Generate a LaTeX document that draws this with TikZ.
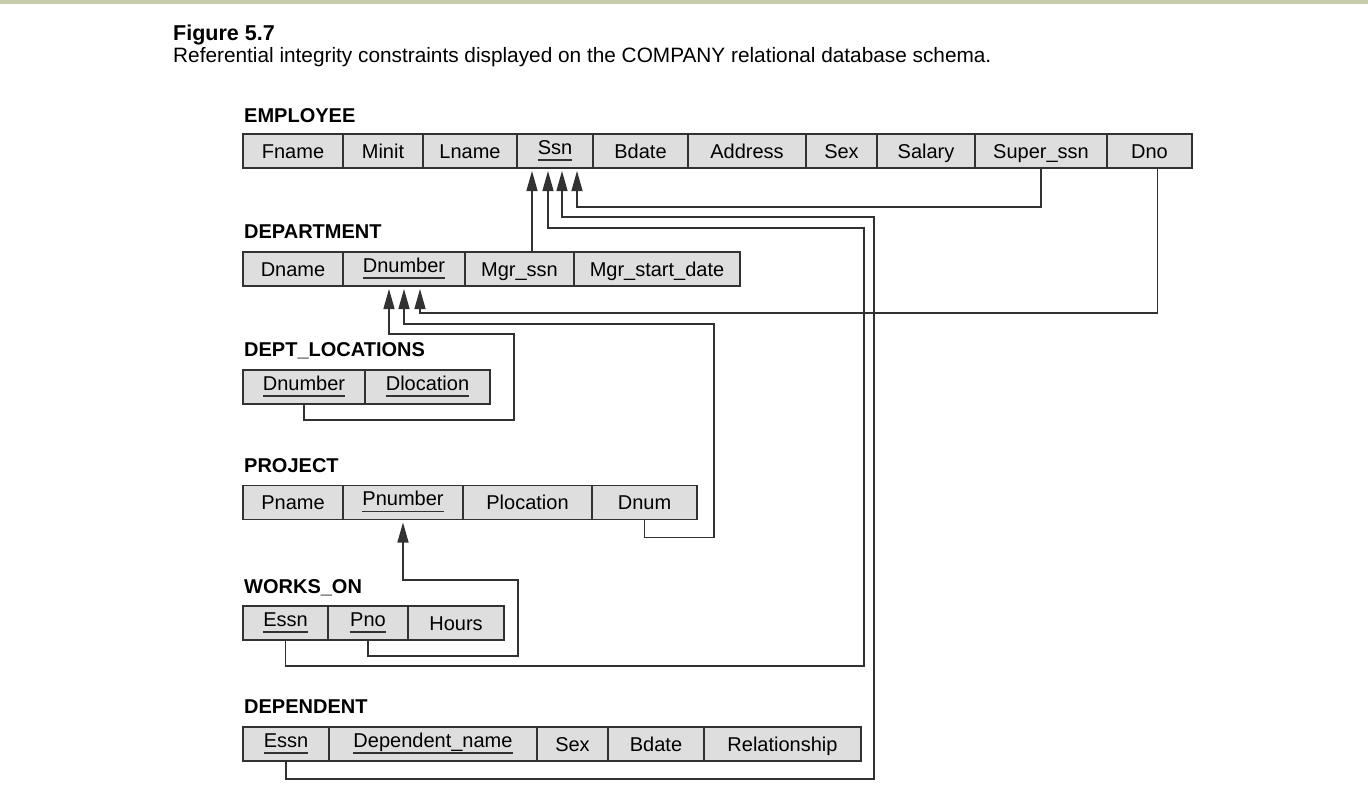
\documentclass[tikz,border=0pt]{standalone}
\usepackage{fontspec}
\setmainfont{Liberation Sans}
\usetikzlibrary{arrows.meta,calc,positioning}

\definecolor{cellgray}{RGB}{222,222,222}
\definecolor{linegray}{RGB}{50,50,50}
\definecolor{bandcol}{RGB}{200,203,172}

% key attribute: raised and underlined
\newcommand{\keyattr}[1]{\raisebox{4pt}{\setbox0\hbox{#1}\rlap{\color{linegray}\rule[-6.5pt]{\wd0}{1.1pt}}\box0}}

\tikzset{
  cell/.style={draw=linegray, fill=cellgray, line width=1.4pt, minimum height=34pt,
    inner sep=0pt, outer sep=0pt, text height=16pt, text depth=2pt,
    font=\fontsize{20}{24}\selectfont},
  first/.style={cell, anchor=west},
  relname/.style={anchor=base west, inner sep=0pt, font=\fontsize{20}{24}\selectfont\bfseries},
  fk/.style={draw=linegray, line width=1.4pt, -{Triangle[length=20pt,width=11pt]}},
}

\begin{document}
\begin{tikzpicture}[x=1pt, y=-1pt]
  \useasboundingbox (0,0) rectangle (1368,809);
  \fill[bandcol] (0,0) rectangle (1368,3.5);

  % caption
  \node[anchor=base west, inner sep=0pt, font=\fontsize{21.5}{26}\selectfont\bfseries] (fig) at (173,40) {Figure 5.7};
  \node[anchor=base west, inner sep=0pt, font=\fontsize{20.8}{24}\selectfont] (cap) at (173,62)
    {Referential integrity constraints displayed on the COMPANY relational database schema.};

  % EMPLOYEE
  \node[relname] (emplbl) at (244,122) {EMPLOYEE};
  \node[first, minimum width=100pt] (efname) at (243,151) {Fname};
  \node[cell, minimum width=80pt, right=0pt of efname] (eminit) {Minit};
  \node[cell, minimum width=94pt, right=0pt of eminit] (elname) {Lname};
  \node[cell, minimum width=76pt, right=0pt of elname] (essn) {\keyattr{Ssn}};
  \node[cell, minimum width=95pt, right=0pt of essn] (ebdate) {Bdate};
  \node[cell, minimum width=118pt, right=0pt of ebdate] (eaddress) {Address};
  \node[cell, minimum width=71pt, right=0pt of eaddress] (esex) {Sex};
  \node[cell, minimum width=98pt, right=0pt of esex] (esalary) {Salary};
  \node[cell, minimum width=132pt, right=0pt of esalary] (esuper) {Super\_ssn};
  \node[cell, minimum width=85pt, right=0pt of esuper] (edno) {Dno};

  % DEPARTMENT
  \node[relname] (deplbl) at (244,238) {DEPARTMENT};
  \node[first, minimum width=100pt] (ddname) at (243,269) {Dname};
  \node[cell, minimum width=122pt, right=0pt of ddname] (ddnumber) {\keyattr{Dnumber}};
  \node[cell, minimum width=109pt, right=0pt of ddnumber] (dmgr) {Mgr\_ssn};
  \node[cell, minimum width=166pt, right=0pt of dmgr] (dmgrdate) {Mgr\_start\_date};

  % DEPT_LOCATIONS
  \node[relname] (loclbl) at (244,356) {DEPT\_LOCATIONS};
  \node[first, minimum width=122pt] (ldnumber) at (243,387) {\keyattr{Dnumber}};
  \node[cell, minimum width=125pt, right=0pt of ldnumber] (ldlocation) {\keyattr{Dlocation}};

  % PROJECT
  \node[relname] (prjlbl) at (244,472) {PROJECT};
  \node[first, minimum width=100pt] (ppname) at (243,502.5) {Pname};
  \node[cell, minimum width=120pt, right=0pt of ppname] (ppnumber) {\keyattr{Pnumber}};
  \node[cell, minimum width=129pt, right=0pt of ppnumber] (pplocation) {Plocation};
  \node[cell, minimum width=105pt, right=0pt of pplocation] (pdnum) {Dnum};

  % WORKS_ON
  \node[relname] (wrklbl) at (244,593) {WORKS\_ON};
  \node[first, minimum width=85pt] (wessn) at (243,623) {\keyattr{Essn}};
  \node[cell, minimum width=80pt, right=0pt of wessn] (wpno) {\keyattr{Pno}};
  \node[cell, minimum width=96pt, right=0pt of wpno] (whours) {Hours};

  % DEPENDENT
  \node[relname] (dpdlbl) at (244,713) {DEPENDENT};
  \node[first, minimum width=86pt] (tessn) at (243,744) {\keyattr{Essn}};
  \node[cell, minimum width=208pt, right=0pt of tessn] (tdname) {\keyattr{Dependent\_name}};
  \node[cell, minimum width=71pt, right=0pt of tdname] (tsex) {Sex};
  \node[cell, minimum width=96pt, right=0pt of tsex] (tbdate) {Bdate};
  \node[cell, minimum width=157pt, right=0pt of tbdate] (trel) {Relationship};

  % arrow ends
  \coordinate (ssnA) at ($(essn.south)+(-23,3)$);
  \coordinate (ssnB) at ($(essn.south)+(-7,3)$);
  \coordinate (ssnC) at ($(essn.south)+(7,3)$);
  \coordinate (ssnD) at ($(essn.south)+(22,3)$);
  \coordinate (dnumA) at ($(ddnumber.south)+(-15,3)$);
  \coordinate (dnumB) at ($(ddnumber.south)+(0,3)$);
  \coordinate (dnumC) at ($(ddnumber.south)+(16,3)$);
  \coordinate (pnumT) at ($(ppnumber.south)+(0,3)$);

  % referential integrity constraints
  \draw[fk] (dmgr.north -| ssnA) -- (ssnA);
  \draw[fk] (wessn.south) -- ++(0,26) -| (864,228) -| (ssnB);
  \draw[fk] (tessn.south) -- ++(0,18) -| (874,217) -| (ssnC);
  \draw[fk] (esuper.south) -- ++(0,39) -| (ssnD);
  \draw[fk] (edno.south) ++(8,0) -- ++(0,145) -| (dnumC);
  \draw[fk] (pdnum.south) -- ++(0,18) -| (714,324) -| (dnumB);
  \draw[fk] (ldnumber.south) -- ++(0,16) -| (514,334) -| (dnumA);
  \draw[fk] (wpno.south) -- ++(0,16) -| (518,580) -| (pnumT);
\end{tikzpicture}
\end{document}
